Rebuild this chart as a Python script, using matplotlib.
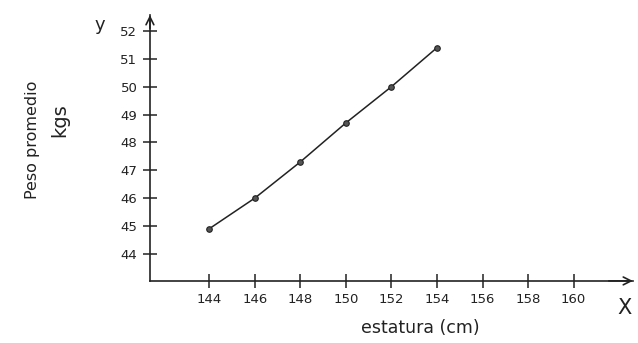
import matplotlib
matplotlib.use("Agg")
import matplotlib.pyplot as plt

# Average weight by height
estatura = [144, 146, 148, 150, 152, 154]
peso = [44.9, 46.0, 47.3, 48.7, 50.0, 51.4]

x_ticks = [144, 146, 148, 150, 152, 154, 156, 158, 160]
y_ticks = [44, 45, 46, 47, 48, 49, 50, 51, 52]

fig = plt.figure(figsize=(6.38, 3.43), dpi=100)
ax = fig.add_axes([0.235, 0.181, 0.757, 0.775])

ink = "#222222"
ax.plot(estatura, peso, color=ink, lw=1.1, marker="o", ms=4,
        mfc="#555555", mec=ink, mew=0.8)

ax.set_xlim(141.4, 162.6)
ax.set_ylim(43.03, 52.57)
ax.set_xticks(x_ticks)
ax.set_yticks(y_ticks)
ax.tick_params(direction="inout", length=10, width=1.1, colors=ink,
               labelsize=9.5, pad=4)

for side in ("top", "right"):
    ax.spines[side].set_visible(False)
for side in ("left", "bottom"):
    ax.spines[side].set_linewidth(1.2)
    ax.spines[side].set_color(ink)

# open arrow heads at the ends of the axes
arrow = dict(arrowstyle="->", color=ink, lw=1.2, shrinkA=0, shrinkB=0,
             mutation_scale=14)
ax.annotate("", xy=(1.0, 0), xytext=(0.95, 0), xycoords="axes fraction",
            arrowprops=arrow, annotation_clip=False)
ax.annotate("", xy=(0, 1.0), xytext=(0, 0.95), xycoords="axes fraction",
            arrowprops=arrow, annotation_clip=False)

fig.text(100 / 638, 1 - 25 / 343, "y", fontsize=13, color=ink,
         ha="center", va="center")
fig.text(625 / 638, 1 - 308 / 343, "X", fontsize=15, color=ink,
         ha="center", va="center")
fig.text(420 / 638, 1 - 328 / 343, "estatura (cm)", fontsize=12.5, color=ink,
         ha="center", va="center")
fig.text(32 / 638, 1 - 140 / 343, "Peso promedio", fontsize=11.5,
         color=ink, ha="center", va="center", rotation=90)
fig.text(60 / 638, 1 - 120 / 343, "kgs", fontsize=14,
         color=ink, ha="center", va="center", rotation=90)

fig.savefig("out.png", dpi=100)
